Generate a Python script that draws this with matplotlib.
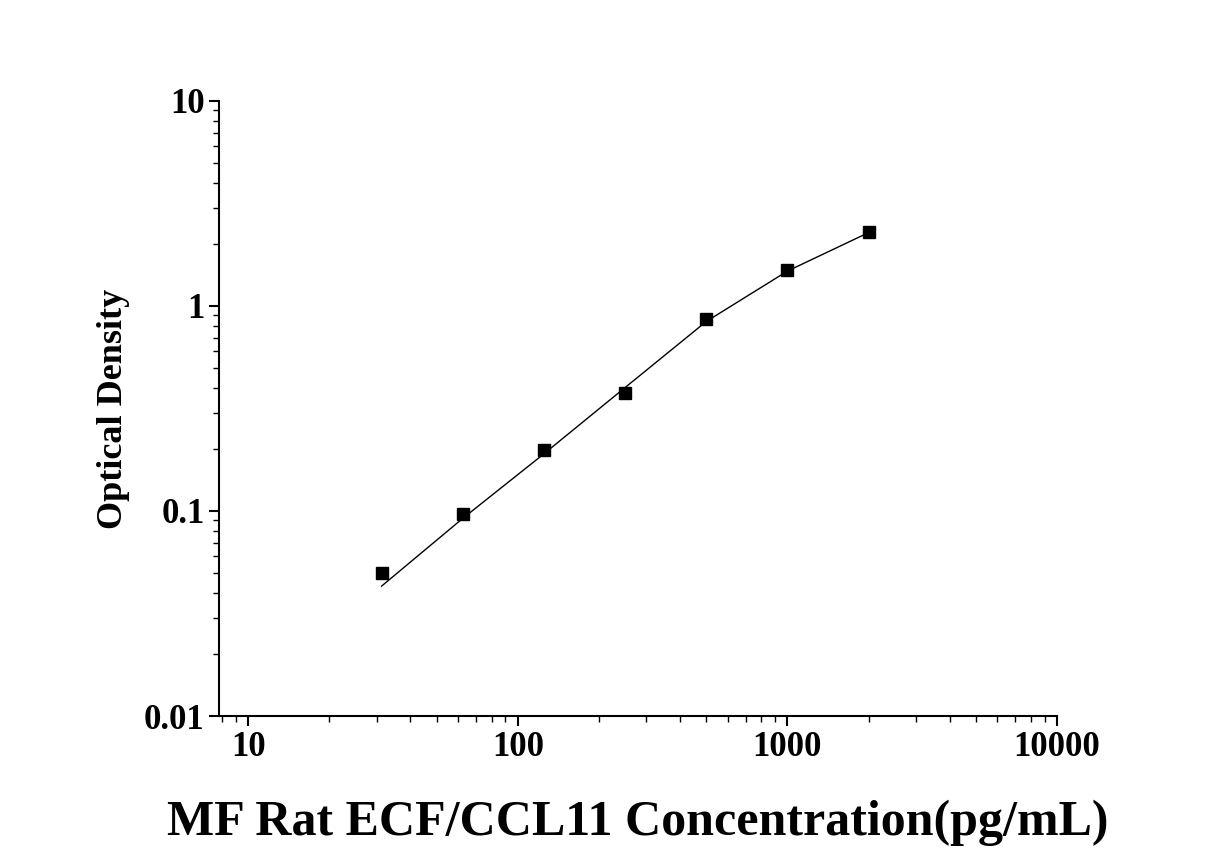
import matplotlib
matplotlib.use("Agg")
import matplotlib.pyplot as plt
from matplotlib.ticker import LogLocator, FixedLocator, NullFormatter

conc = [31.25, 62.5, 125, 250, 500, 1000, 2000]
od = [0.050, 0.097, 0.198, 0.378, 0.86, 1.50, 2.30]
fit_od = [0.043, 0.092, 0.19, 0.40, 0.84, 1.48, 2.28]

xticks = [10, 100, 1000, 10000]
xtick_labels = ["10", "100", "1000", "10000"]
yticks = [0.01, 0.1, 1, 10]
ytick_labels = ["0.01", "0.1", "1", "10"]

plt.rcParams['font.family'] = ['Liberation Serif', 'DejaVu Serif']
plt.rcParams['font.weight'] = 'bold'

fig = plt.figure(figsize=(12.27, 8.58), dpi=100)
ax = fig.add_axes([0.1785, 0.1655, 0.683, 0.7168])

ax.plot(conc, fit_od, color='black', lw=1)
ax.plot(conc, od, 's', color='black', ms=9)

ax.set_xscale('log')
ax.set_yscale('log')
ax.set_xlim(7.8, 10000)
ax.set_ylim(0.01, 10)

ax.xaxis.set_major_locator(FixedLocator(xticks))
ax.set_xticklabels(xtick_labels)
ax.yaxis.set_major_locator(FixedLocator(yticks))
ax.set_yticklabels(ytick_labels)
ax.xaxis.set_minor_locator(LogLocator(base=10, subs=range(2, 10)))
ax.yaxis.set_minor_locator(LogLocator(base=10, subs=range(2, 10)))
ax.xaxis.set_minor_formatter(NullFormatter())
ax.yaxis.set_minor_formatter(NullFormatter())

ax.spines['top'].set_visible(False)
ax.spines['right'].set_visible(False)
for s in ['left', 'bottom']:
    ax.spines[s].set_linewidth(1.5)
ax.tick_params(which='major', direction='out', length=7, width=1.5, labelsize=25)
ax.tick_params(which='minor', direction='out', length=4, width=1)
for lbl in ax.get_xticklabels() + ax.get_yticklabels():
    lbl.set_fontweight('bold')

ax.set_xlabel("MF Rat ECF/CCL11 Concentration(pg/mL)", fontsize=36, fontweight='bold', labelpad=26)
ax.set_ylabel("Optical Density", fontsize=26, fontweight='bold', labelpad=10)

fig.savefig("out.png", dpi=100)
